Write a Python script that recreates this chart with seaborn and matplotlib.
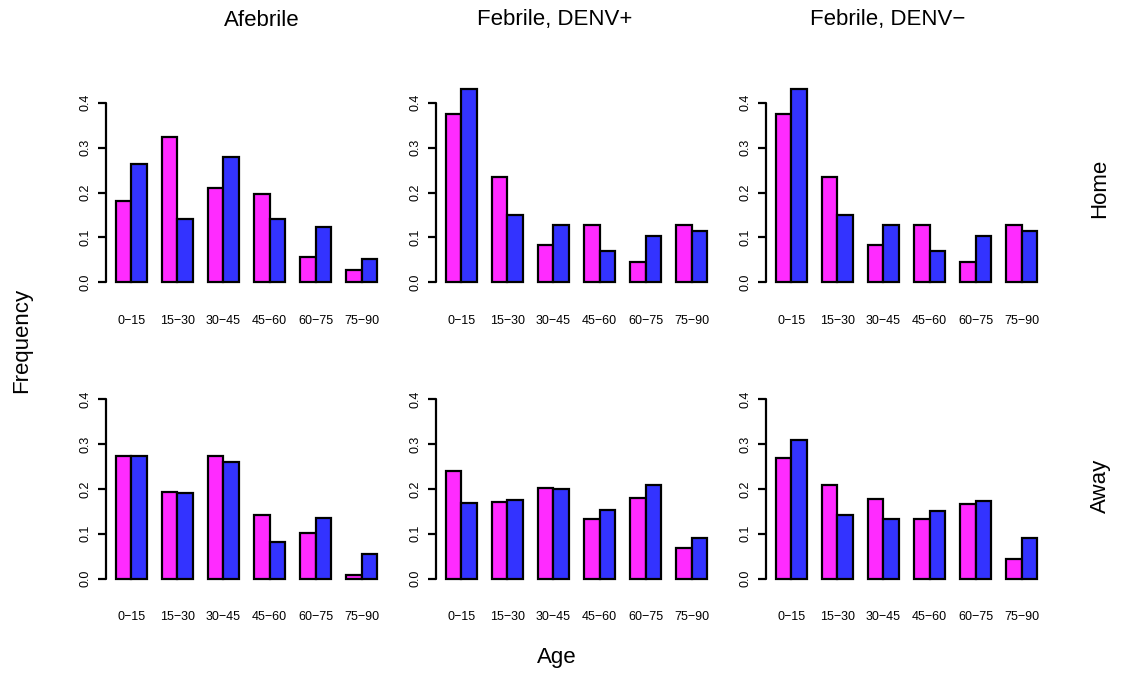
import numpy as np
import pandas as pd
import matplotlib
matplotlib.use("Agg")
import matplotlib.pyplot as plt
import seaborn as sns

sns.set_theme(style="white")
plt.rcParams['font.family'] = ['Liberation Sans', 'DejaVu Sans']
plt.rcParams['text.color'] = 'black'

age_groups = ["0\u221215", "15\u221230", "30\u221245", "45\u221260", "60\u221275", "75\u221290"]
col_titles = ["Afebrile", "Febrile, DENV+", "Febrile, DENV\u2212"]
row_titles = ["Home", "Away"]
series_names = ["A", "B"]

# Home row
afebrile_home_a = [0.182, 0.323, 0.211, 0.197, 0.056, 0.027]
afebrile_home_b = [0.263, 0.140, 0.280, 0.140, 0.123, 0.052]
denvpos_home_a = [0.376, 0.234, 0.082, 0.128, 0.045, 0.128]
denvpos_home_b = [0.430, 0.150, 0.127, 0.069, 0.104, 0.115]
denvneg_home_a = [0.376, 0.234, 0.082, 0.128, 0.045, 0.128]
denvneg_home_b = [0.430, 0.150, 0.127, 0.069, 0.104, 0.115]
# Away row
afebrile_away_a = [0.274, 0.193, 0.274, 0.143, 0.101, 0.008]
afebrile_away_b = [0.273, 0.191, 0.260, 0.081, 0.136, 0.054]
denvpos_away_a = [0.241, 0.171, 0.202, 0.132, 0.179, 0.069]
denvpos_away_b = [0.169, 0.176, 0.199, 0.153, 0.208, 0.091]
denvneg_away_a = [0.270, 0.208, 0.177, 0.133, 0.167, 0.043]
denvneg_away_b = [0.309, 0.142, 0.133, 0.150, 0.172, 0.090]

panels = [
    [(afebrile_home_a, afebrile_home_b), (denvpos_home_a, denvpos_home_b), (denvneg_home_a, denvneg_home_b)],
    [(afebrile_away_a, afebrile_away_b), (denvpos_away_a, denvpos_away_b), (denvneg_away_a, denvneg_away_b)],
]
colors = ["#FF2BFF", "#3333FF"]
yticks = [0.0, 0.1, 0.2, 0.3, 0.4]

W, H = 1124, 679
fig = plt.figure(figsize=(W / 100, H / 100), dpi=100)

lefts = [105.6, 435.6, 765.6]
pw = 281.8
tops = [81.6, 378.0]
ph = 208.4

ymax = 0.43
for r in range(2):
    for c in range(3):
        a_vals, b_vals = panels[r][c]
        df = pd.DataFrame({
            "age": age_groups * 2,
            "freq": list(a_vals) + list(b_vals),
            "grp": [series_names[0]] * 6 + [series_names[1]] * 6,
        })
        ax = fig.add_axes([lefts[c] / W, 1 - (tops[r] + ph) / H, pw / W, ph / H])
        sns.barplot(data=df, x="age", y="freq", hue="grp", order=age_groups,
                    hue_order=series_names, palette=colors, width=2 / 3, gap=0,
                    edgecolor="black", linewidth=1.6, saturation=1, legend=False,
                    ax=ax, errorbar=None)
        ax.set_xlim(-0.56, 5.56)
        ax.set_ylim(-0.04 * ymax, 1.04 * ymax)
        ax.set_xlabel("")
        ax.set_ylabel("")
        for s in ["top", "right", "bottom", "left"]:
            ax.spines[s].set_visible(False)
        ax.set_yticks(yticks)
        ax.set_yticklabels([f"{v:.1f}" for v in yticks], rotation=90, va="center", fontsize=9)
        ax.tick_params(axis="y", length=6, width=1.6, color="black", pad=4, left=True,
                       labelcolor="black")
        ax.tick_params(axis="x", length=0, pad=18, labelsize=9, labelcolor="black")
        ax.plot([-0.56, -0.56], [0, 0.4], color="black", lw=1.6, clip_on=False,
                transform=ax.transData)

col_centers = [262, 555, 888]
for c in range(3):
    fig.text(col_centers[c] / W, 1 - 20 / H, col_titles[c], ha="center", va="center",
             fontsize=16, color="black")
row_centers = [188, 486]
for r in range(2):
    fig.text(1100 / W, 1 - row_centers[r] / H, row_titles[r], ha="center", va="center",
             rotation=90, fontsize=16, color="black")
fig.text(22 / W, 1 - 340 / H, "Frequency", ha="center", va="center", rotation=90,
         fontsize=16, color="black")
fig.text(557 / W, 1 - 658 / H, "Age", ha="center", va="center", fontsize=16, color="black")

fig.savefig("out.png", dpi=100, facecolor="white")
